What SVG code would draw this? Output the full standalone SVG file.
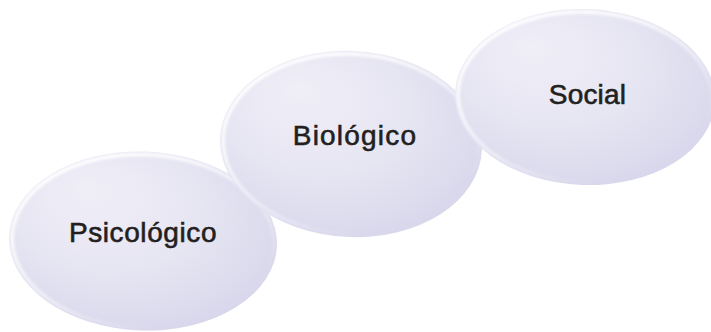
<svg xmlns="http://www.w3.org/2000/svg" width="711" height="332" viewBox="0 0 711 332">
  <defs>
    <radialGradient id="fillGrad" cx="0.42" cy="0.4" r="0.65" fx="0.28" fy="0.22">
      <stop offset="0" stop-color="#F0EFF8"/>
      <stop offset="0.55" stop-color="#E6E5F2"/>
      <stop offset="0.85" stop-color="#DDDCEE"/>
      <stop offset="1" stop-color="#D7D5EA"/>
    </radialGradient>
    <linearGradient id="rimGrad" x1="0.1" y1="0.05" x2="0.75" y2="0.85">
      <stop offset="0" stop-color="#FFFFFF" stop-opacity="1"/>
      <stop offset="0.45" stop-color="#FFFFFF" stop-opacity="0.6"/>
      <stop offset="1" stop-color="#FFFFFF" stop-opacity="0"/>
    </linearGradient>
    <filter id="soft" x="-5%" y="-5%" width="110%" height="110%">
      <feGaussianBlur stdDeviation="1.2"/>
    </filter>
  </defs>
  <style>
    .body { fill: url(#fillGrad); }
    .rim { fill: none; stroke: url(#rimGrad); stroke-width: 4; }
    .label { font-family: "Liberation Sans", Arial, sans-serif; font-size: 28px; fill: #231F20; stroke: #231F20; stroke-width: 0.6; text-anchor: middle; }
  </style>
  <g id="connectors"/>
  <g id="psicologico">
    <g transform="translate(143,241) rotate(2)">
      <ellipse class="body" cx="0" cy="0" rx="134" ry="89.5"/>
      <ellipse class="rim" cx="0" cy="0" rx="131" ry="86.5" filter="url(#soft)"/>
    </g>
    <text class="label" x="143" y="241.5" style="letter-spacing:0.6px">Psicológico</text>
  </g>
  <g id="biologico">
    <g transform="translate(351,144) rotate(3)">
      <ellipse class="body" cx="0" cy="0" rx="131" ry="93"/>
      <ellipse class="rim" cx="0" cy="0" rx="128" ry="90" filter="url(#soft)"/>
    </g>
    <text class="label" x="355" y="144.5" style="letter-spacing:1.2px">Biológico</text>
  </g>
  <g id="social">
    <g transform="translate(585,97) rotate(2)">
      <ellipse class="body" cx="0" cy="0" rx="130" ry="88"/>
      <ellipse class="rim" cx="0" cy="0" rx="127" ry="85" filter="url(#soft)"/>
    </g>
    <text class="label" x="587.5" y="103.5" style="letter-spacing:0.2px">Social</text>
  </g>
</svg>
